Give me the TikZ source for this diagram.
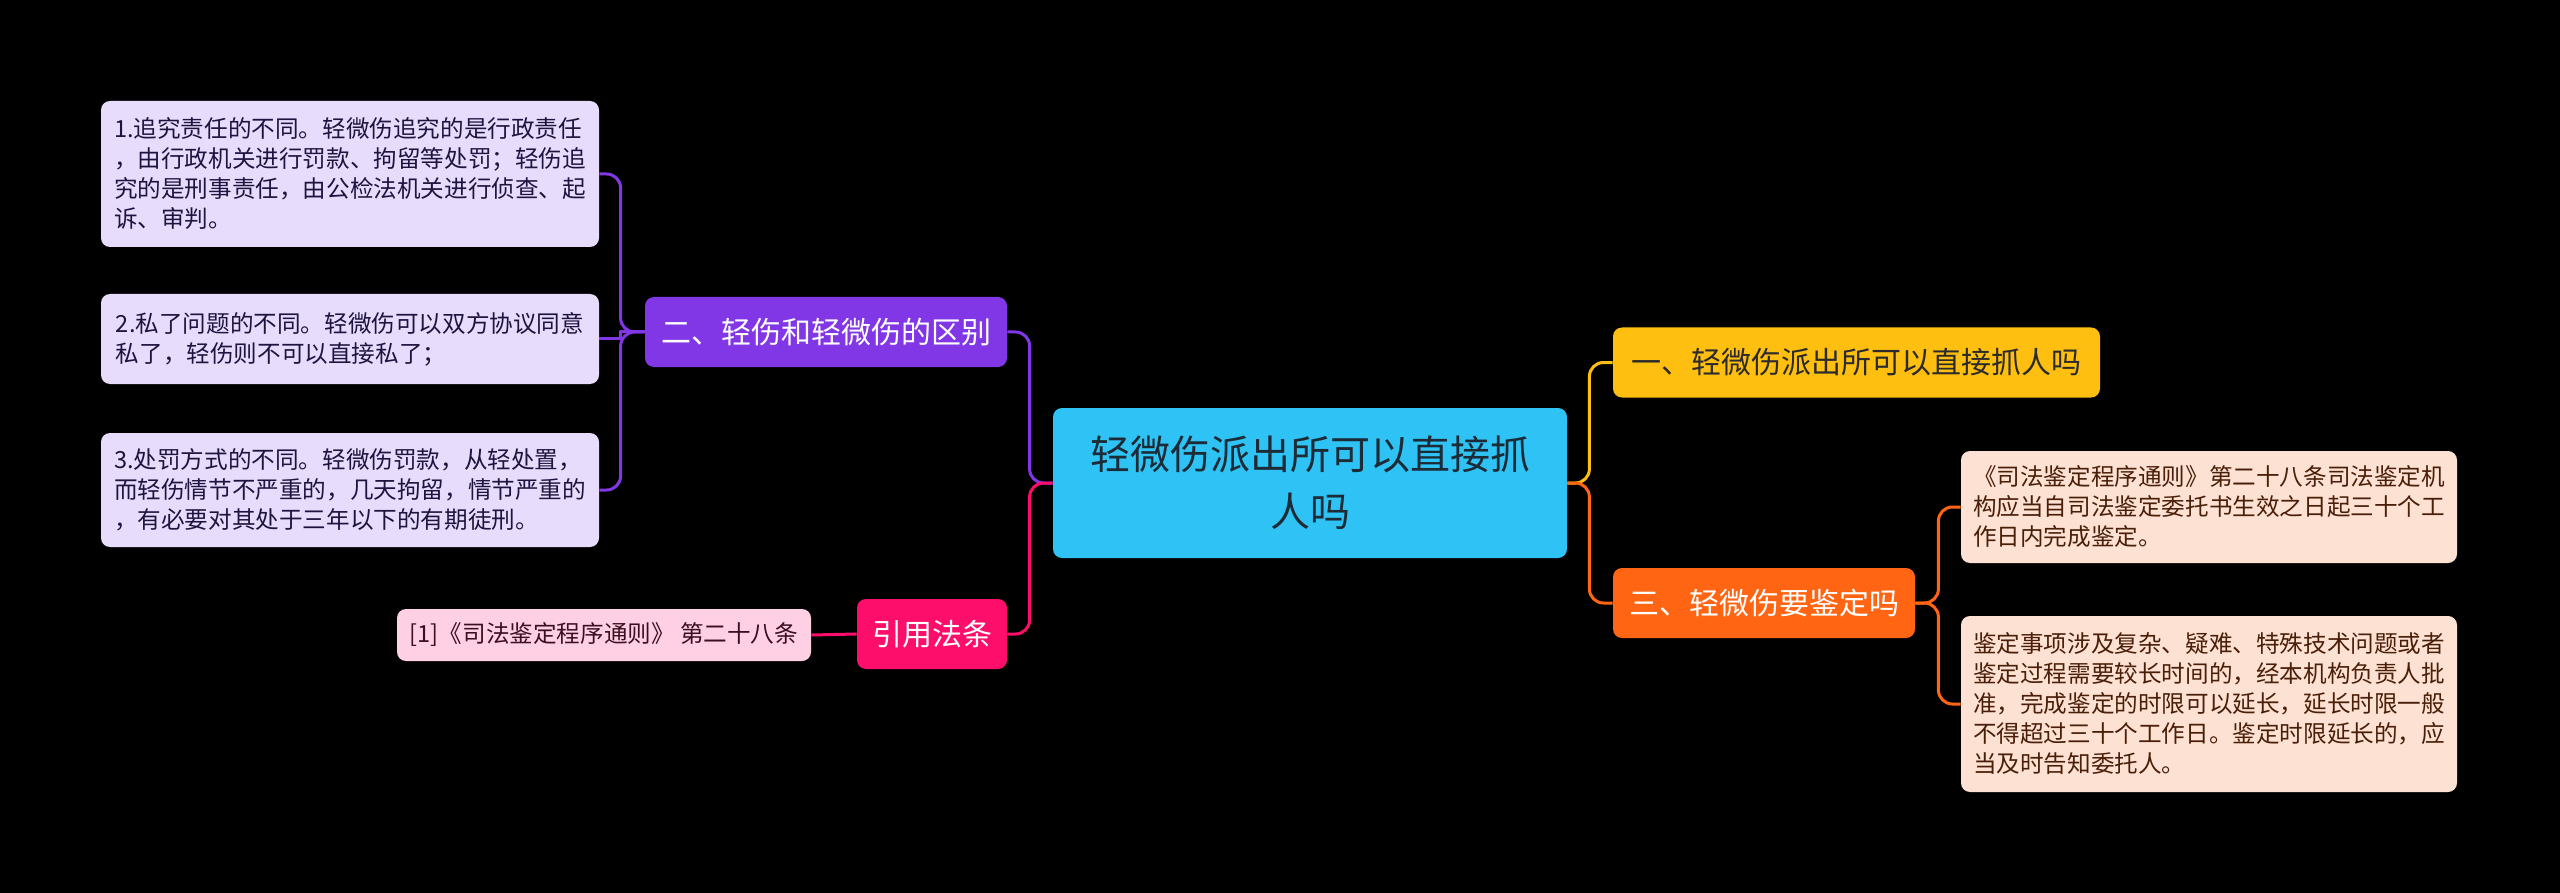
\documentclass[tikz,border=0pt]{standalone}
\usepackage{fontspec}
\setmainfont{Noto Sans CJK SC}
\definecolor{bg}{HTML}{000000}
\definecolor{cfill}{HTML}{2EC3F4}
\definecolor{ctext}{HTML}{1D2B36}
\definecolor{yfill}{HTML}{FFBF10}
\definecolor{ytext}{HTML}{2B2B2B}
\definecolor{ofill}{HTML}{FF6512}
\definecolor{orleaf}{HTML}{FDE1D2}
\definecolor{ortext}{HTML}{4A1F0A}
\definecolor{pfill}{HTML}{8237E6}
\definecolor{pleaf}{HTML}{E7DCFB}
\definecolor{ptext}{HTML}{1E1440}
\definecolor{rfill}{HTML}{FD0E6A}
\definecolor{rleaf}{HTML}{FFD0E4}
\definecolor{rtext}{HTML}{3A1020}
\begin{document}
\begin{tikzpicture}[x=0.5pt,y=-0.5pt,
  sz/.style 2 args={minimum width=#1*0.5pt, minimum height=#2*0.5pt},
  basebox/.style={rectangle, rounded corners=4.5pt, inner sep=0pt},
  leaftxt/.style={basebox, align=left, font=\fontsize{11.8}{15}\selectfont},
  topictxt/.style={basebox, align=center, font=\fontsize{15}{18}\selectfont},
  centertxt/.style={basebox, align=center, font=\fontsize{20}{28.5}\selectfont},
  conn/.style={line width=1.5pt, rounded corners=7pt},
  connsharp/.style={line width=1.5pt, line join=round}
]
\fill[bg] (0,0) rectangle (2560,893);
\useasboundingbox (0,0) rectangle (2560,893);

% central topic
\node[centertxt, sz={514}{150}, fill=cfill, text=ctext] (c) at (1310,483) {轻微伤派出所可以直接抓\\人吗};

% right side
\node[topictxt, sz={487}{70}, fill=yfill, text=ytext] (n1) at (1856.5,362.5) {一、轻微伤派出所可以直接抓人吗};
\node[topictxt, sz={302}{70}, fill=ofill, text=white] (n3) at (1764,603) {三、轻微伤要鉴定吗};
\node[leaftxt, sz={496}{112}, fill=orleaf, text=ortext] (r1) at (2209,507) {《司法鉴定程序通则》第二十八条司法鉴定机\\构应当自司法鉴定委托书生效之日起三十个工\\作日内完成鉴定。};
\node[leaftxt, sz={496}{176}, fill=orleaf, text=ortext] (r2) at (2209,704) {鉴定事项涉及复杂、疑难、特殊技术问题或者\\鉴定过程需要较长时间的，经本机构负责人批\\准，完成鉴定的时限可以延长，延长时限一般\\不得超过三十个工作日。鉴定时限延长的，应\\当及时告知委托人。};

% left side
\node[topictxt, sz={362}{70}, fill=pfill, text=white] (n2) at (826,332) {二、轻伤和轻微伤的区别};
\node[topictxt, sz={150}{70}, fill=rfill, text=white] (ref) at (932,634) {引用法条};
\node[leaftxt, sz={498}{146}, fill=pleaf, text=ptext] (l1) at (350,174) {1.追究责任的不同。轻微伤追究的是行政责任\\，由行政机关进行罚款、拘留等处罚；轻伤追\\究的是刑事责任，由公检法机关进行侦查、起\\诉、审判。};
\node[leaftxt, sz={498}{90}, fill=pleaf, text=ptext] (l2) at (350,339) {2.私了问题的不同。轻微伤可以双方协议同意\\私了，轻伤则不可以直接私了；};
\node[leaftxt, sz={498}{114}, fill=pleaf, text=ptext] (l3) at (350,490) {3.处罚方式的不同。轻微伤罚款，从轻处置，\\而轻伤情节不严重的，几天拘留，情节严重的\\，有必要对其处于三年以下的有期徒刑。};
\node[leaftxt, sz={414}{52}, fill=rleaf, text=rtext] (cit) at (604,635) {[1]《司法鉴定程序通则》 第二十八条};

% connectors
\draw[conn, yfill] (c.east) -- ++(22,0) |- (n1.west);
\draw[conn, ofill] (c.east) -- ++(22,0) |- (n3.west);
\draw[conn, ofill] (n3.east) -- ++(23,0) |- (r1.west);
\draw[conn, ofill] (n3.east) -- ++(23,0) |- (r2.west);
\draw[conn, pfill] (c.west) -- ++(-23,0) |- (n2.east);
\draw[conn, rfill] (c.west) -- ++(-23,0) |- (ref.east);
\draw[conn, pfill] (n2.west) -- ++(-24,0) |- (l1.east);
\draw[connsharp, pfill] (n2.west) -- ++(-24,0) |- (l2.east);
\draw[conn, pfill] (n2.west) -- ++(-24,0) |- (l3.east);
\draw[conn, rfill] (ref.west) -- (cit.east);
\end{tikzpicture}
\end{document}
